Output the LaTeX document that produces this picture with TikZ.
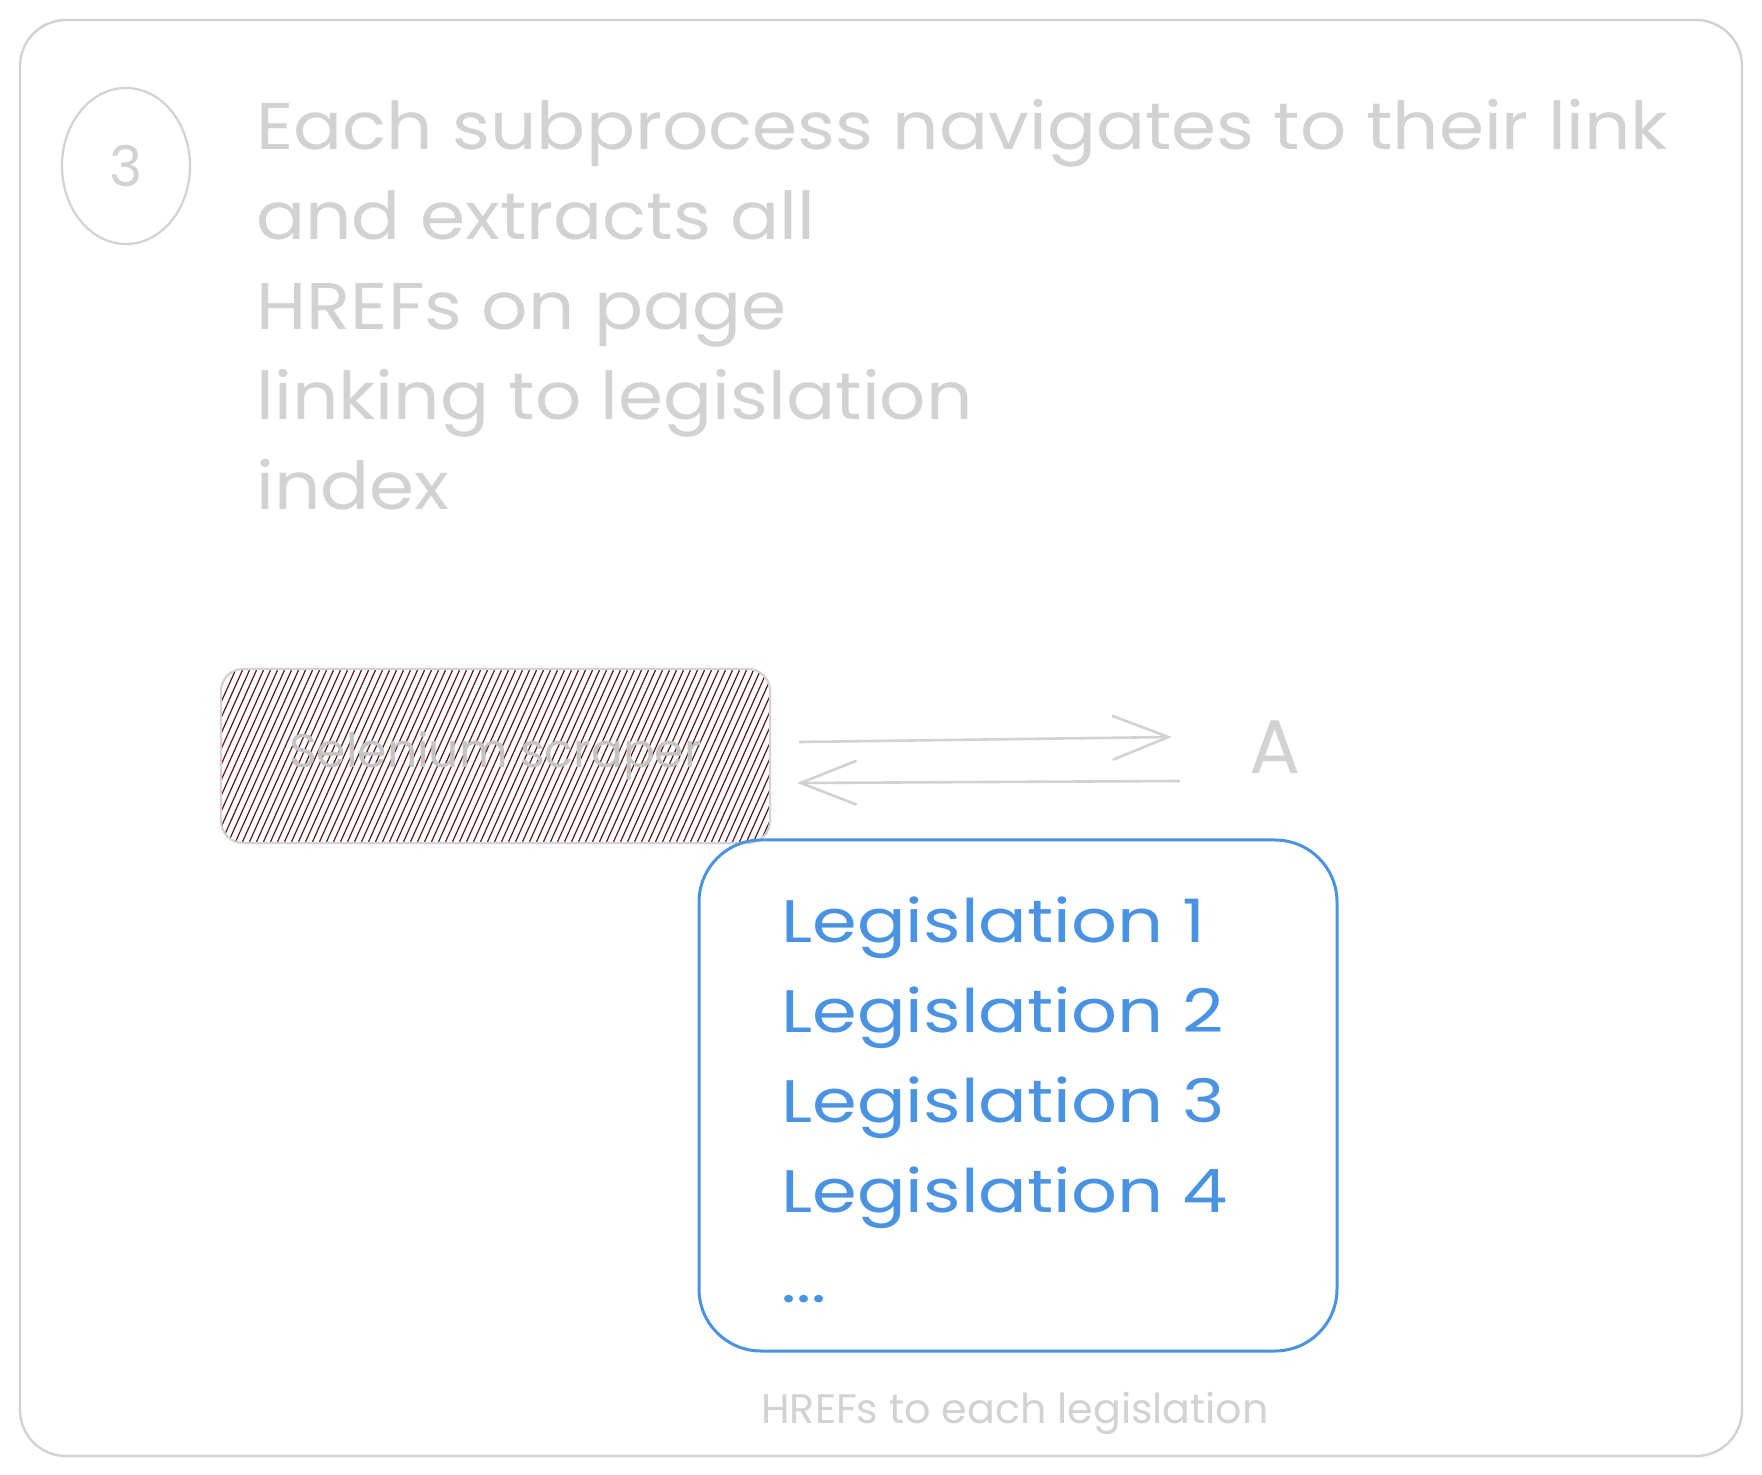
\documentclass[tikz,border=0pt]{standalone}
\usepackage{fontspec}
\setmainfont{Poppins}
\newfontfamily\bluefont[FakeStretch=1.2]{Poppins}
\newfontfamily\grayfont[FakeStretch=1.1]{Poppins}
\usetikzlibrary{arrows.meta,shapes.geometric,calc}
\definecolor{sk}{RGB}{210,210,210}
\definecolor{skdark}{RGB}{196,196,196}
\definecolor{hatchc}{RGB}{88,26,30}
\definecolor{blu}{RGB}{74,146,226}
\begin{document}
\begin{tikzpicture}[x=0.5pt,y=-0.5pt,
  frame/.style={draw=sk,line width=1.2pt,rounded corners=23pt},
  numcircle/.style={ellipse,draw=sk,line width=1.1pt,minimum width=64pt,minimum height=78pt,inner sep=0pt,text=sk,font=\fontsize{28}{30}\selectfont},
  graytext/.style={text=sk,align=left,inner sep=0pt,font=\grayfont\fontsize{33}{45}\selectfont},
  hatchbox/.style={draw=sk,line width=1.1pt,rounded corners=11pt,minimum width=274.5pt,minimum height=87pt,
    text=skdark,font=\fontsize{23.6}{26}\selectfont,
    path picture={\foreach \i in {-14,...,82}{\draw[hatchc,line width=0.6pt]
      ($(path picture bounding box.south west)+(\i*7,0)$) -- ++(78,-174);}}},
  bluebox/.style={draw=blu,line width=1.5pt,rounded corners=31pt,minimum width=319pt,minimum height=255.5pt},
  bluetext/.style={text=blu,align=left,inner sep=0pt,font=\bluefont\fontsize{30}{45}\selectfont},
  captext/.style={text=sk,inner sep=0pt,font=\fontsize{20.6}{23}\selectfont},
  grayarrow/.style={draw=sk,line width=1.3pt,-{Straight Barb[length=28pt,width=22pt]}}]
\fill[white] (0,0) rectangle (1762,1475);
\useasboundingbox (0,0) rectangle (1762,1475);
\draw[frame] (20,20) rectangle (1742,1456);
\node[numcircle] (num) at (126,166) {3};
\node[graytext,anchor=base west] (desc) at (256,510) {Each subprocess navigates to their link\\and extracts all\\HREFs on page\\linking to legislation\\index};
\node[hatchbox] (scraper) at (495.5,756) {Selenium scraper};
\node[text=sk,inner sep=0pt,font=\fontsize{38}{40}\selectfont] (A) at (1275,747) {A};
\draw[grayarrow] ($(scraper.east)+(28,-14)$) -- ($(A.center)+(-103,-10)$);
\draw[grayarrow] ($(A.center)+(-95,34)$) -- ($(scraper.east)+(26,27)$);
\node[bluebox] (list) at (1018,1095.5) {};
\node[bluetext,anchor=base west] (items) at (781,1302) {Legislation 1\\Legislation 2\\Legislation 3\\Legislation 4\\...};
\node[captext,anchor=base] (cap) at (1015,1423) {HREFs to each legislation};
\end{tikzpicture}
\end{document}
